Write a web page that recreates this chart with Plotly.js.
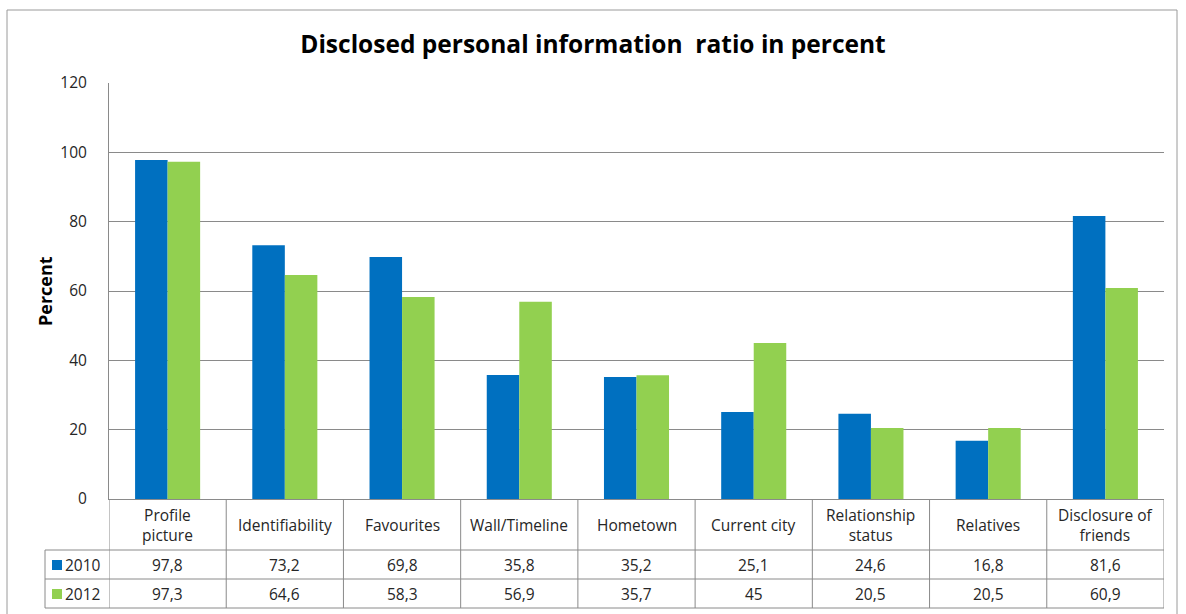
<!DOCTYPE html>
<html><head><meta charset="utf-8">
<script src="https://cdn.plot.ly/plotly-3.0.1.min.js"></script>
<style>html,body{margin:0;padding:0;background:#fff}#chart{width:1186px;height:614px}</style>
</head><body><div id="chart"></div>
<script>
const categories = ["Profile picture","Identifiability","Favourites","Wall/Timeline","Hometown","Current city","Relationship status","Relatives","Disclosure of friends"];
const categoryLabels = ["Profile<br>picture","Identifiability","Favourites","Wall/Timeline","Hometown","Current city","Relationship<br>status","Relatives","Disclosure of<br>friends"];
const values2010 = [97.8,73.2,69.8,35.8,35.2,25.1,24.6,16.8,81.6];
const values2012 = [97.3,64.6,58.3,56.9,35.7,45,20.5,20.5,60.9];
const seriesNames = ["2010","2012"];
const seriesColors = ["#0070C0","#92D050"];
const yTicks = [0,20,40,60,80,100,120];

const FONT = "'Open Sans', sans-serif";
const TXT = "#262626";
const GRID = "#8a8a8a";
const W = 1186, H = 614, L = 109, R = 22, T = 83, B = 115;
const pw = W - L - R, ph = H - T - B;
const px = x => (x - L) / pw;          // page px -> paper x
const py = y => (H - B - y) / ph;      // page px -> paper y

const fmt = v => String(v).replace('.', ',');

const traces = [values2010, values2012].map((vals, s) => ({
  type: 'bar', x: categories, y: vals, name: seriesNames[s],
  marker: {color: seriesColors[s]}, hoverinfo: 'x+y'
}));

const shapes = [];
const annotations = [];
const lineStyle = {color: GRID, width: 1};

// outer frame
shapes.push({type:'rect', xref:'paper', yref:'paper', x0:px(7), x1:px(1177), y0:py(10), y1:py(640), line:{color:'#9a9a9a', width:1}, fillcolor:'rgba(0,0,0,0)', layer:'below'});

// table rows (horizontal lines)
const rowTops = [550, 579, 608];
rowTops.forEach(yy => shapes.push({type:'line', xref:'paper', yref:'paper', x0:px(45), x1:1, y0:py(yy), y1:py(yy), line:lineStyle}));
// left column border
shapes.push({type:'line', xref:'paper', yref:'paper', x0:px(45), x1:px(45), y0:py(550), y1:py(608), line:lineStyle});
// vertical column separators via category scale
for (let i = 0; i <= categories.length; i++) {
  shapes.push({type:'line', xref:'x', yref:'paper', x0:i-0.5, x1:i-0.5, y0:0, y1:py(608), line:lineStyle});
}

// category labels
categories.forEach((c, i) => {
  annotations.push({xref:'x', yref:'paper', x:c, y:py(525), text:categoryLabels[i], showarrow:false,
    font:{family:FONT, size:15.5, color:TXT}, xanchor:'center', yanchor:'middle'});
});
// data rows
const rowCenters = [565, 594];
[values2010, values2012].forEach((vals, s) => {
  vals.forEach((v, i) => {
    annotations.push({xref:'x', yref:'paper', x:categories[i], y:py(rowCenters[s]), text:fmt(v), showarrow:false,
      font:{family:FONT, size:15.5, color:TXT}, xanchor:'center', yanchor:'middle'});
  });
  // legend key
  shapes.push({type:'rect', xref:'paper', yref:'paper', x0:px(52), x1:px(62), y0:py(rowCenters[s]-5), y1:py(rowCenters[s]+5),
    fillcolor:seriesColors[s], line:{width:0}});
  annotations.push({xref:'paper', yref:'paper', x:px(63), y:py(rowCenters[s]), text:seriesNames[s], showarrow:false,
    font:{family:FONT, size:15.5, color:TXT}, xanchor:'left', yanchor:'middle'});
});

// y axis title
annotations.push({xref:'paper', yref:'paper', x:px(45), y:py(291), text:'<b>Percent</b>', textangle:-90, showarrow:false,
  font:{family:FONT, size:18, color:'#000'}, xanchor:'center', yanchor:'middle'});

const layout = {
  width: W, height: H,
  margin: {l:L, r:R, t:T, b:B},
  paper_bgcolor: '#fff', plot_bgcolor: '#fff',
  showlegend: false,
  barmode: 'group', bargap: 0.445, bargroupgap: 0,
  title: {text: '<b>Disclosed personal information  ratio in percent</b>', xref:'container', x:0.5, y:1-44/H, yanchor:'middle', xanchor:'center',
    font:{family:FONT, size:24.5, color:'#000'}},
  xaxis: {type:'category', range:[-0.5, categories.length-0.5], showticklabels:false, ticks:'', showgrid:false,
    showline:true, linecolor:GRID, linewidth:1, zeroline:false, fixedrange:true},
  yaxis: {range:[0,120], tickvals:yTicks, showgrid:true, gridcolor:GRID, gridwidth:1, zeroline:false,
    showline:true, linecolor:GRID, linewidth:1, ticks:'', ticklabelstandoff:18,
    tickfont:{family:FONT, size:15.5, color:TXT}, fixedrange:true},
  shapes, annotations
};

Plotly.newPlot('chart', traces, layout, {displayModeBar:false, staticPlot:true});
</script></body></html>
